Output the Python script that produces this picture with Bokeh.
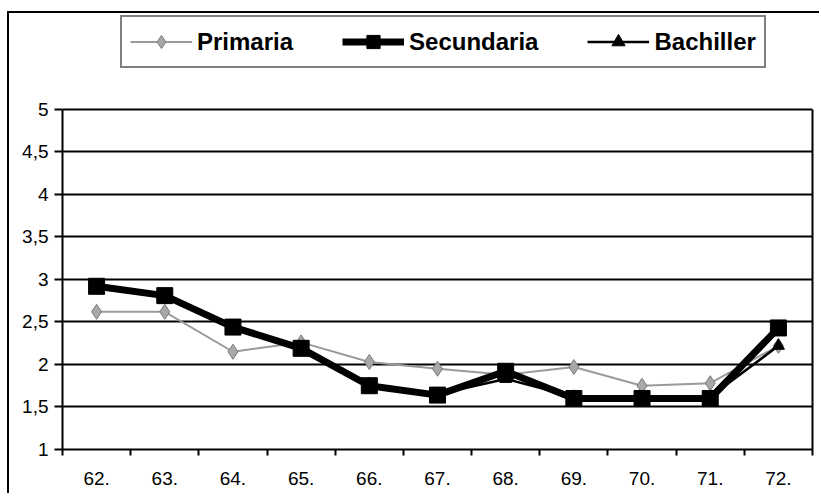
from bokeh.plotting import figure
from bokeh.models import (FactorRange, Range1d, LinearAxis, CategoricalAxis, FixedTicker,
                          Legend, LegendItem, Grid, ColumnDataSource)
from bokeh.embed import file_html
from bokeh.resources import INLINE

# ---- data ----
years = ["62.", "63.", "64.", "65.", "66.", "67.", "68.", "69.", "70.", "71.", "72."]
primaria = [2.62, 2.62, 2.15, 2.26, 2.03, 1.95, 1.88, 1.97, 1.75, 1.78, 2.22]
secundaria = [2.92, 2.81, 2.44, 2.19, 1.75, 1.64, 1.92, 1.60, 1.60, 1.60, 2.43]
bachiller = [2.93, 2.80, 2.45, 2.20, 1.77, 1.65, 1.83, 1.62, 1.60, 1.62, 2.22]
y_ticks = [1, 1.5, 2, 2.5, 3, 3.5, 4, 4.5, 5]
y_labels = ["1", "1,5", "2", "2,5", "3", "3,5", "4", "4,5", "5"]

FONT = "Liberation Sans"

src = ColumnDataSource(dict(x=years, p=primaria, s=secundaria, b=bachiller))

# the frame reaches up to the top of the canvas so the legend can sit above the 5-line
p = figure(width=812, height=482,
           x_range=FactorRange(factors=years, range_padding=0),
           y_range=Range1d(1, 6.129),
           x_axis_type=None, y_axis_type=None,
           output_backend="svg", toolbar_location=None,
           min_border_left=53, min_border_right=9, min_border_top=0, min_border_bottom=46)
p.styles = {"border-top": "2px solid black", "border-left": "2px solid black",
            "margin-top": "11px", "margin-left": "7px"}
p.background_fill_color = "white"
p.border_fill_color = "white"
p.outline_line_color = None

# horizontal grid lines (the one at 5 is the top of the plot area)
p.add_layout(Grid(dimension=1, ticker=FixedTicker(ticks=y_ticks),
                  grid_line_color="black", grid_line_width=2))

# y axis (left side of plot area)
yax = LinearAxis(ticker=FixedTicker(ticks=y_ticks), bounds=(1, 5),
                 major_label_overrides={t: l for t, l in zip(y_ticks, y_labels)},
                 axis_line_width=2, major_tick_line_width=2,
                 major_tick_out=8, major_tick_in=0, minor_tick_out=0, minor_tick_in=0,
                 major_label_standoff=6,
                 major_label_text_font=FONT, major_label_text_font_size="19px",
                 major_label_text_color="black")
p.add_layout(yax, "left")

# right side of plot area
rax = LinearAxis(ticker=FixedTicker(ticks=[]), bounds=(1, 5),
                 axis_line_width=2, major_tick_out=0, major_tick_in=0,
                 minor_tick_out=0, minor_tick_in=0)
p.add_layout(rax, "right")

# x tick marks at category boundaries
nb = len(years) + 1
tick_ax = LinearAxis(ticker=FixedTicker(ticks=list(range(nb))),
                     major_label_overrides={i: "" for i in range(nb)},
                     axis_line_width=2, major_tick_line_width=2,
                     major_tick_out=6, major_tick_in=0, minor_tick_out=0, minor_tick_in=0,
                     major_label_text_font_size="1px", major_label_standoff=0)
p.add_layout(tick_ax, "below")

# x category labels
xax = CategoricalAxis(axis_line_color=None, major_tick_line_color=None,
                      major_label_standoff=10,
                      major_label_text_font=FONT, major_label_text_font_size="19px",
                      major_label_text_color="black")
p.add_layout(xax, "below")

# series
lp = p.line("x", "p", source=src, line_color="#9a9a9a", line_width=2)
mp = p.scatter("x", "p", source=src, marker="diamond", size=15,
               fill_color="#a8a8a8", line_color="#7a7a7a", line_width=1)
ls = p.line("x", "s", source=src, line_color="black", line_width=7)
ms = p.scatter("x", "s", source=src, marker="square", size=16,
               fill_color="black", line_color="black")
lb = p.line("x", "b", source=src, line_color="black", line_width=2.5)
mb = p.scatter("x", "b", source=src, marker="triangle", size=12,
               fill_color="black", line_color="black")

legend = Legend(items=[LegendItem(label="Primaria", renderers=[lp, mp]),
                       LegendItem(label="Secundaria", renderers=[ls, ms]),
                       LegendItem(label="Bachiller", renderers=[lb, mb])],
                orientation="horizontal", location=(58, 381),
                border_line_color="black", border_line_width=2,
                background_fill_color="white", background_fill_alpha=1,
                label_text_font=FONT, label_text_font_style="bold",
                label_text_font_size="24px", label_text_color="black",
                glyph_width=62, glyph_height=33, label_standoff=5,
                spacing=49, padding=8, margin=0)
p.add_layout(legend, "center")

open("out.html", "w").write(file_html(p, INLINE))
